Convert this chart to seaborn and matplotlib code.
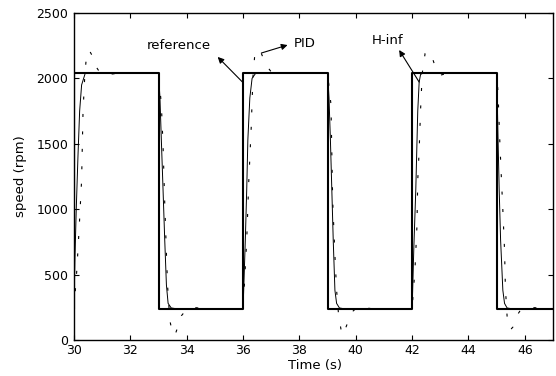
import matplotlib
matplotlib.use("Agg")
import matplotlib.pyplot as plt
import seaborn as sns
import pandas as pd

# reference speed (square wave)
ref_t = [30.0, 30.0, 33.0, 33.0, 36.0, 36.0, 39.0, 39.0, 42.0, 42.0, 45.0, 45.0, 47.0]
ref_v = [240, 2040, 2040, 240, 240, 2040, 2040, 240, 240, 2040, 2040, 240, 240]

# H-inf controller response
hinf_t = [30.0, 30.03, 30.08, 30.14, 30.2, 30.27, 30.4,
          33.0, 33.05, 33.1, 33.16, 33.22, 33.28, 33.34, 33.45, 33.6,
          36.0, 36.04, 36.08, 36.13, 36.17, 36.24, 36.32, 36.45,
          39.0, 39.05, 39.1, 39.15, 39.2, 39.26, 39.32, 39.42, 39.55,
          42.0, 42.06, 42.13, 42.2, 42.25, 42.3, 42.38,
          45.0, 45.02, 45.05, 45.09, 45.14, 45.22, 45.28, 45.37, 45.5,
          47.0]
hinf_v = [240, 600, 1000, 1400, 1750, 1950, 2040,
          2040, 1850, 1530, 1150, 765, 420, 280, 245, 240,
          240, 500, 765, 1150, 1530, 1850, 2000, 2040,
          2040, 1850, 1530, 1150, 765, 380, 280, 245, 240,
          240, 700, 1147, 1750, 1972, 2030, 2040,
          2040, 1850, 1530, 1150, 765, 380, 280, 245, 240,
          240]

# PID controller response
pid_t = [30.0, 30.1, 30.18, 30.27, 30.32, 30.38, 30.45, 30.54, 30.63, 30.75, 30.92, 31.2, 31.6,
         33.0, 33.1, 33.16, 33.22, 33.28, 33.32, 33.4, 33.5, 33.58, 33.7, 33.81, 34.0, 34.2, 34.6,
         36.0, 36.05, 36.13, 36.2, 36.29, 36.35, 36.41, 36.52, 36.65, 36.82, 37.0, 37.3,
         39.0, 39.12, 39.18, 39.27, 39.32, 39.39, 39.51, 39.62, 39.75, 39.9, 40.07, 40.7,
         42.0, 42.1, 42.17, 42.2, 42.25, 42.3, 42.36, 42.46, 42.58, 42.72, 42.85, 43.0, 43.3,
         45.0, 45.05, 45.1, 45.16, 45.22, 45.28, 45.31, 45.38, 45.45, 45.5, 45.58, 45.7, 45.85, 46.1, 46.5, 47.0]
pid_v = [240, 535, 841, 1223, 1743, 2010, 2194, 2215, 2180, 2100, 2045, 2030, 2040,
         2040, 1800, 1490, 1047, 665, 420, 150, 50, 35, 110, 185, 235, 250, 240,
         240, 435, 765, 1200, 1628, 2010, 2165, 2225, 2190, 2100, 2050, 2040,
         2040, 1800, 1070, 600, 380, 190, 38, 80, 153, 220, 255, 235,
         240, 535, 864, 1223, 1450, 1760, 2040, 2190, 2210, 2155, 2070, 2025, 2040,
         2040, 1888, 1582, 1277, 994, 688, 398, 150, 90, 80, 100, 180, 230, 250, 245, 240]

x_ticks = [30, 32, 34, 36, 38, 40, 42, 44, 46]
y_ticks = [0, 500, 1000, 1500, 2000, 2500]

sns.set_style("ticks")
plt.rcParams["font.family"] = ["DejaVu Sans"]
plt.rcParams["text.color"] = "black"
plt.rcParams["axes.labelcolor"] = "black"

fig = plt.figure(figsize=(5.56, 3.76), dpi=100)
ax = fig.add_axes([74 / 556, 36 / 376, 479 / 556, 327 / 376])

ref_df = pd.DataFrame({"t": ref_t, "v": ref_v})
hinf_df = pd.DataFrame({"t": hinf_t, "v": hinf_v})
pid_df = pd.DataFrame({"t": pid_t, "v": pid_v})

sns.lineplot(data=pid_df, x="t", y="v", ax=ax, sort=False, estimator=None,
             color="black", lw=0.8)
ax.lines[-1].set_dashes((2.7, 13))
sns.lineplot(data=hinf_df, x="t", y="v", ax=ax, sort=False, estimator=None,
             color="black", lw=0.7)
sns.lineplot(data=ref_df, x="t", y="v", ax=ax, sort=False, estimator=None,
             color="black", lw=1.5)

ax.set_xlim(30, 47)
ax.set_ylim(0, 2500)
ax.set_xticks(x_ticks)
ax.set_yticks(y_ticks)
ax.tick_params(axis="both", which="both", direction="in", length=3.5, width=0.8,
               top=True, right=True, labelsize=9, colors="black")
ax.tick_params(axis="x", pad=3)
ax.tick_params(axis="y", pad=4)
for s in ax.spines.values():
    s.set_visible(True)
    s.set_linewidth(1.0)
    s.set_color("black")

ax.set_xlabel("Time (s)", fontsize=9.5)
ax.set_ylabel("speed (rpm)", fontsize=9.5)
ax.xaxis.set_label_coords(0.503, -0.058)
ax.yaxis.set_label_coords(-0.098, 0.5)

arrow = dict(arrowstyle="-|>", color="black", lw=0.8, mutation_scale=9,
             shrinkA=0, shrinkB=0)
ax.annotate("", xy=(35.10, 2164), xytext=(35.98, 1972), arrowprops=arrow)
ax.text(33.72, 2255, "reference", ha="center", va="center", fontsize=9.5)
ax.annotate("", xy=(37.58, 2255), xytext=(36.65, 2194), arrowprops=arrow)
ax.text(38.18, 2270, "PID", ha="center", va="center", fontsize=9.5)
ax.annotate("", xy=(41.54, 2217), xytext=(42.25, 1972), arrowprops=arrow)
ax.text(41.12, 2293, "H-inf", ha="center", va="center", fontsize=9.5)

fig.savefig("out.png", dpi=100)
